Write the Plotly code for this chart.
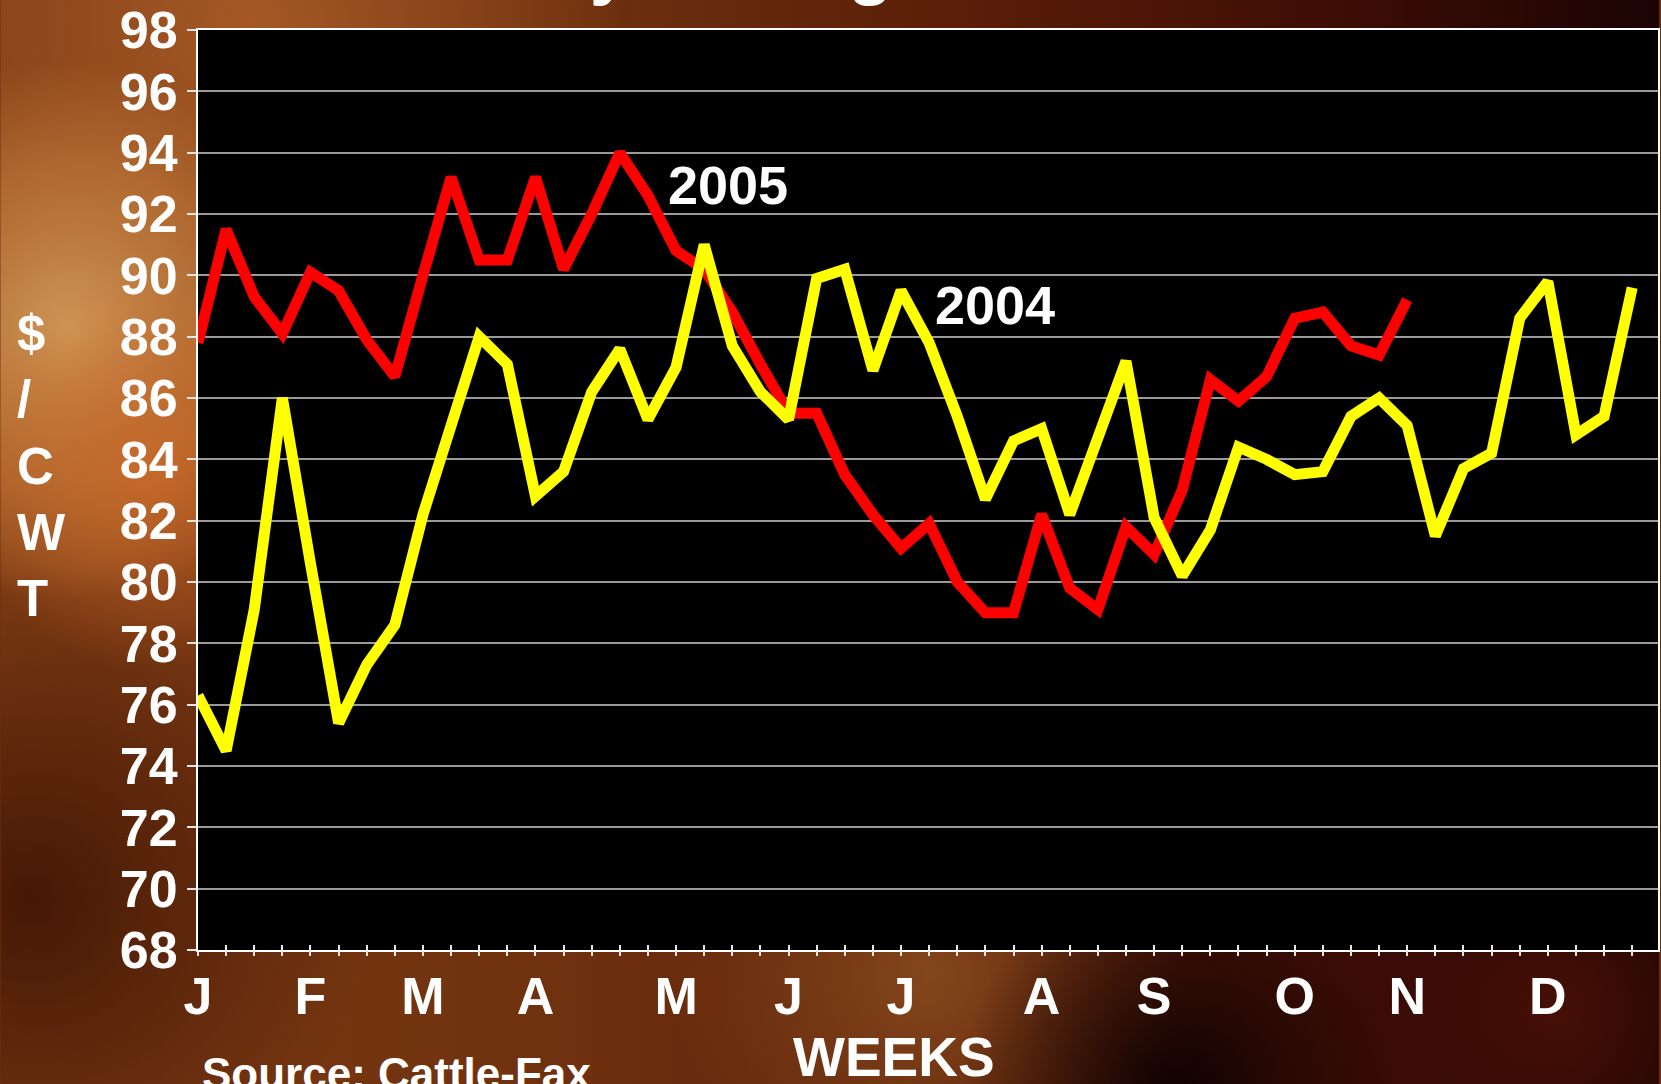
import base64
import plotly.graph_objects as go

# ---------------- data ----------------
weeks_2005 = list(range(44))
price_2005 = [87.8, 91.5, 89.3, 88.1, 90.1, 89.5, 87.9, 86.7, 90.0, 93.2,
              90.5, 90.5, 93.2, 90.2, 92.0, 94.0, 92.6, 90.8, 90.2, 88.8,
              87.1, 85.5, 85.5, 83.5, 82.2, 81.1, 81.9, 80.0, 79.0, 79.0,
              82.2, 79.8, 79.1, 81.8, 80.9, 83.0, 86.6, 85.9, 86.7, 88.6,
              88.8, 87.7, 87.4, 89.2]
weeks_2004 = list(range(52))
price_2004 = [76.3, 74.5, 79.1, 86.0, 80.6, 75.4, 77.3, 78.6, 82.2, 85.1,
              88.0, 87.1, 82.8, 83.6, 86.2, 87.6, 85.3, 87.0, 91.0, 87.7,
              86.2, 85.3, 89.9, 90.2, 86.9, 89.5, 87.8, 85.4, 82.7, 84.6,
              85.0, 82.2, 84.8, 87.2, 82.1, 80.2, 81.7, 84.4, 84.0, 83.5,
              83.6, 85.4, 86.0, 85.1, 81.5, 83.7, 84.2, 88.6, 89.8, 84.8,
              85.4, 89.6]
month_weeks = [0, 4, 8, 12, 17, 21, 25, 30, 34, 39, 43, 48]
month_labels = ["J", "F", "M", "A", "M", "J", "J", "A", "S", "O", "N", "D"]
y_ticks = list(range(68, 100, 2))
series_names = ["2005", "2004"]

# ---------------- layout geometry ----------------
W, H = 1661, 1084
L, R, T, B = 198, 1, 30, 134
PW, PH = W - L - R, H - T - B
FONT = "Liberation Sans, Arial, sans-serif"


def px_x(x):
    return (x - L) / PW


def px_y(y):
    return (H - B - y) / PH


# background texture (gradient) as an inline svg image
svg = f'''<svg xmlns="http://www.w3.org/2000/svg" width="{W}" height="{H}" viewBox="0 0 {W} {H}">
<defs>
<linearGradient id="base" x1="0" y1="0" x2="1" y2="0">
<stop offset="0" stop-color="#7e3c14"/>
<stop offset="0.35" stop-color="#6e300e"/>
<stop offset="0.6" stop-color="#581c08"/>
<stop offset="0.82" stop-color="#3c0c05"/>
<stop offset="1" stop-color="#1a0403"/>
</linearGradient>
<radialGradient id="g1" cx="70" cy="330" r="270" gradientUnits="userSpaceOnUse">
<stop offset="0" stop-color="#cf9a5a" stop-opacity="1"/>
<stop offset="0.6" stop-color="#c8803e" stop-opacity="0.6"/>
<stop offset="1" stop-color="#c8803e" stop-opacity="0"/>
</radialGradient>
<radialGradient id="g2" cx="150" cy="470" r="200" gradientUnits="userSpaceOnUse">
<stop offset="0" stop-color="#cc6a2a" stop-opacity="0.8"/>
<stop offset="1" stop-color="#cc6a2a" stop-opacity="0"/>
</radialGradient>
<radialGradient id="g3" cx="30" cy="900" r="340" gradientUnits="userSpaceOnUse">
<stop offset="0" stop-color="#421604" stop-opacity="0.95"/>
<stop offset="1" stop-color="#421604" stop-opacity="0"/>
</radialGradient>
<radialGradient id="g4" cx="930" cy="975" r="260" gradientUnits="userSpaceOnUse">
<stop offset="0" stop-color="#8e5020" stop-opacity="0.8"/>
<stop offset="1" stop-color="#8e5020" stop-opacity="0"/>
</radialGradient>
<radialGradient id="g5" cx="1180" cy="1090" r="220" gradientUnits="userSpaceOnUse">
<stop offset="0" stop-color="#100202" stop-opacity="1"/>
<stop offset="1" stop-color="#100202" stop-opacity="0"/>
</radialGradient>
<radialGradient id="g6" cx="250" cy="20" r="380" gradientUnits="userSpaceOnUse">
<stop offset="0" stop-color="#b0602a" stop-opacity="0.8"/>
<stop offset="1" stop-color="#b0602a" stop-opacity="0"/>
</radialGradient>
<radialGradient id="g7" cx="1560" cy="1010" r="200" gradientUnits="userSpaceOnUse">
<stop offset="0" stop-color="#4a1006" stop-opacity="0.9"/>
<stop offset="1" stop-color="#4a1006" stop-opacity="0"/>
</radialGradient>
</defs>
<rect width="{W}" height="{H}" fill="url(#base)"/>
<rect width="{W}" height="{H}" fill="url(#g6)"/>
<rect width="{W}" height="{H}" fill="url(#g3)"/>
<rect width="{W}" height="{H}" fill="url(#g1)"/>
<rect width="{W}" height="{H}" fill="url(#g2)"/>
<rect width="{W}" height="{H}" fill="url(#g4)"/>
<rect width="{W}" height="{H}" fill="url(#g5)"/>
<rect width="{W}" height="{H}" fill="url(#g7)"/>
<rect x="{L}" y="{T}" width="{PW}" height="{PH}" fill="#000000"/>
</svg>'''
bg_src = "data:image/svg+xml;base64," + base64.b64encode(svg.encode()).decode()

fig = go.Figure()
fig.add_trace(go.Scatter(
    x=weeks_2005, y=price_2005, name=series_names[0], mode="lines",
    line=dict(color="#ff0000", width=11), xaxis="x", yaxis="y",
    hoverinfo="x+y"))
fig.add_trace(go.Scatter(
    x=weeks_2004, y=price_2004, name=series_names[1], mode="lines",
    line=dict(color="#ffff00", width=11), xaxis="x2", yaxis="y",
    hoverinfo="x+y"))

xrange = [0, PW / 28.16]
tick_color = "#e6e6e6"

fig.update_layout(
    width=W, height=H,
    margin=dict(l=L, r=R, t=T, b=B, pad=0),
    paper_bgcolor="#6a2a0c",
    plot_bgcolor="#000000",
    showlegend=False,
    font=dict(family=FONT, color="white", size=52, weight="bold"),
    xaxis=dict(
        range=xrange, tickmode="linear", tick0=0, dtick=1,
        ticks="inside", ticklen=5, tickwidth=1.5, tickcolor=tick_color,
        showticklabels=False, showgrid=False, zeroline=False,
        showline=True, linecolor="#ffffff", linewidth=2, mirror=True,
    ),
    xaxis2=dict(
        overlaying="x", anchor="y", side="bottom", range=xrange,
        tickmode="array", tickvals=month_weeks, ticktext=month_labels,
        ticks="outside", ticklen=5, tickwidth=1.5, tickcolor=tick_color,
        minor=dict(tickmode="linear", tick0=0, dtick=1, ticks="outside",
                   ticklen=5, tickwidth=1.5, tickcolor=tick_color, showgrid=False),
        tickfont=dict(family=FONT, size=52, color="white", weight="bold"),
        ticklabelstandoff=-4,
        showgrid=False, zeroline=False, showline=False,
    ),
    yaxis=dict(
        range=[68, 98], tickmode="array", tickvals=y_ticks,
        ticks="outside", ticklen=9, tickwidth=1.5, tickcolor=tick_color,
        tickfont=dict(family=FONT, size=52, color="white", weight="bold"),
        ticklabelstandoff=-1,
        showgrid=True, gridcolor="#9a9a9a", gridwidth=1.5,
        zeroline=False, showline=True, linecolor="#ffffff", linewidth=2,
        mirror=True,
    ),
    images=[dict(
        source=bg_src, xref="paper", yref="paper",
        x=px_x(0), y=px_y(0), sizex=W / PW, sizey=H / PH,
        xanchor="left", yanchor="top", sizing="stretch", layer="below")],
)

ann_font = dict(family=FONT, color="white", weight="bold")
fig.add_annotation(text="2005", x=18.86, y=92.93, xref="x", yref="y",
                   showarrow=False, font=dict(size=54, **ann_font))
fig.add_annotation(text="2004", x=28.34, y=89.03, xref="x", yref="y",
                   showarrow=False, font=dict(size=54, **ann_font))
fig.add_annotation(text="$<br>/<br>C<br>W<br>T", x=px_x(15), y=px_y(466),
                   xref="paper", yref="paper", xanchor="left", yanchor="middle",
                   align="left", showarrow=False, font=dict(size=51, **ann_font))
fig.add_annotation(text="WEEKS", x=px_x(895), y=px_y(1057),
                   xref="paper", yref="paper", xanchor="center", yanchor="middle",
                   showarrow=False, font=dict(size=55, **ann_font))
fig.add_annotation(text="Source: Cattle-Fax", x=px_x(200), y=px_y(1073),
                   xref="paper", yref="paper", xanchor="left", yanchor="middle",
                   showarrow=False, font=dict(size=44, **ann_font))
fig.add_annotation(text="Weekly Average Fed Steer Prices", x=px_x(954), y=px_y(-35),
                   xref="paper", yref="paper", xanchor="center", yanchor="middle",
                   showarrow=False, font=dict(size=73, **ann_font))

fig.write_html(
    "out.html",
    config={"displayModeBar": False},
    post_script="document.body.style.margin='0px';document.body.style.overflow='hidden';",
)
